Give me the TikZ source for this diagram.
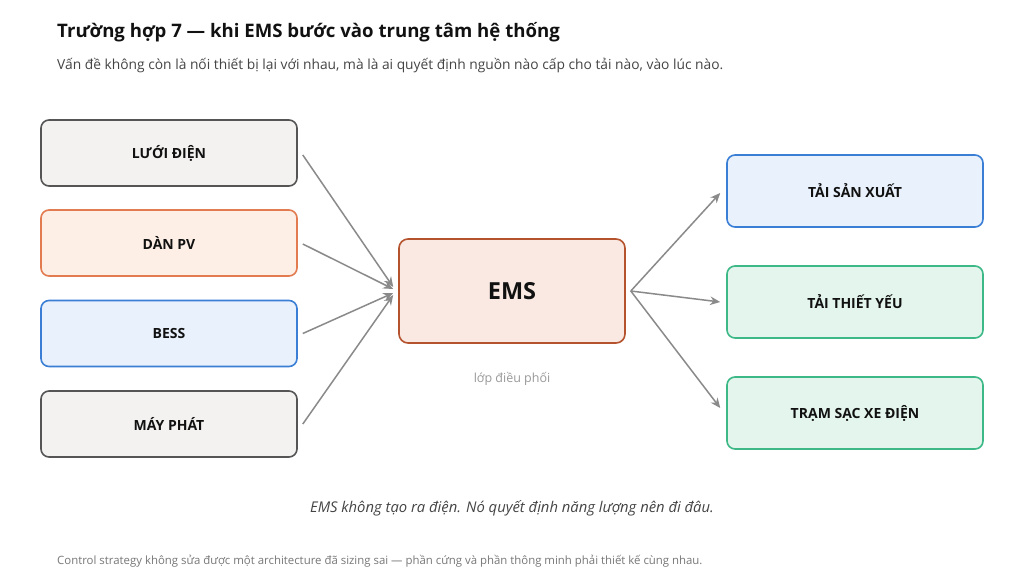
\documentclass[tikz,border=0pt]{standalone}
\usepackage{fontspec}
\setmainfont{Open Sans}
\usetikzlibrary{arrows.meta,calc}
\definecolor{grayfill}{HTML}{F3F2F0}
\definecolor{graydraw}{HTML}{555555}
\definecolor{pvfill}{HTML}{FDEEE6}
\definecolor{pvdraw}{HTML}{E27B4F}
\definecolor{bessfill}{HTML}{E8F1FC}
\definecolor{bessdraw}{HTML}{3A7FD5}
\definecolor{emsfill}{HTML}{FAE9E2}
\definecolor{emsdraw}{HTML}{B5532F}
\definecolor{greenfill}{HTML}{E3F5EC}
\definecolor{greendraw}{HTML}{3DB887}
\definecolor{arrowgray}{HTML}{8A8A8A}
\definecolor{titlecol}{HTML}{111111}
\definecolor{subcol}{HTML}{444444}
\definecolor{notecol}{HTML}{999999}
\definecolor{footcol}{HTML}{777777}
\tikzset{
  box/.style={rounded corners=8pt, line width=1.6pt, minimum width=256pt, minimum height=66pt, inner sep=0pt,
    font=\fontsize{14}{17}\selectfont\bfseries, text=titlecol},
  src/.style={box},
  load/.style={box, minimum height=72pt},
  emsbox/.style={rounded corners=9pt, line width=1.6pt, minimum width=226pt, minimum height=104pt, inner sep=0pt,
    fill=emsfill, draw=emsdraw, font=\fontsize{23.5}{28}\selectfont\bfseries, text=titlecol},
  arr/.style={draw=arrowgray, line width=1.5pt, -{Stealth[length=10pt,width=8.5pt]}},
}
\begin{document}
\begin{tikzpicture}[x=1pt,y=1pt]
\useasboundingbox[fill=white] (0,0) rectangle (1024,-583);
% title
\node[anchor=base west, inner sep=0pt, text=titlecol, font=\fontsize{18.6}{22}\selectfont\bfseries] (title) at (57,-37.5) {Trường hợp 7 — khi EMS bước vào trung tâm hệ thống};
\node[anchor=base west, inner sep=0pt, text=subcol, font=\fontsize{13.8}{16}\selectfont] (sub) at (57,-70) {Vấn đề không còn là nối thiết bị lại với nhau, mà là ai quyết định nguồn nào cấp cho tải nào, vào lúc nào.};
% sources
\node[src, fill=grayfill, draw=graydraw] (l1) at (169,-153) {LƯỚI ĐIỆN};
\node[src, fill=pvfill, draw=pvdraw] (l2) at (169,-243) {DÀN PV};
\node[src, fill=bessfill, draw=bessdraw] (l3) at (169,-333.5) {BESS};
\node[src, fill=grayfill, draw=graydraw] (l4) at (169,-424) {MÁY PHÁT};
% ems
\node[emsbox] (ems) at (512,-291) {EMS};
\node[anchor=base, inner sep=0pt, text=notecol, font=\fontsize{12.5}{15}\selectfont] (note) at (512,-382) {lớp điều phối};
% loads
\node[load, fill=bessfill, draw=bessdraw] (r1) at (855,-191) {TẢI SẢN XUẤT};
\node[load, fill=greenfill, draw=greendraw] (r2) at (855,-302) {TẢI THIẾT YẾU};
\node[load, fill=greenfill, draw=greendraw] (r3) at (855,-413) {TRẠM SẠC XE ĐIỆN};
% arrows in
\draw[arr] ([xshift=5pt,yshift=-2pt]l1.east) -- ([xshift=-5pt,yshift=4pt]ems.west);
\draw[arr] ([xshift=5pt,yshift=-1pt]l2.east) -- ([xshift=-5pt,yshift=2pt]ems.west);
\draw[arr] ([xshift=5pt,yshift=0pt]l3.east) -- ([xshift=-5pt,yshift=-2pt]ems.west);
\draw[arr] ([xshift=5pt,yshift=0pt]l4.east) -- ([xshift=-5pt,yshift=-4pt]ems.west);
% arrows out
\draw[arr] ([xshift=5pt]ems.east) -- ([xshift=-6pt,yshift=-2pt]r1.west);
\draw[arr] ([xshift=5pt]ems.east) -- ([xshift=-6pt]r2.west);
\draw[arr] ([xshift=5pt]ems.east) -- ([xshift=-6pt,yshift=5pt]r3.west);
% bottom
\node[anchor=base, inner sep=0pt, text=subcol, font=\fontsize{14.8}{18}\selectfont\itshape] (quote) at (512,-512) {EMS không tạo ra điện. Nó quyết định năng lượng nên đi đâu.};
\node[anchor=base west, inner sep=0pt, text=footcol, font=\fontsize{11.4}{13}\selectfont] (foot) at (57,-564) {Control strategy không sửa được một architecture đã sizing sai — phần cứng và phần thông minh phải thiết kế cùng nhau.};
\end{tikzpicture}
\end{document}
